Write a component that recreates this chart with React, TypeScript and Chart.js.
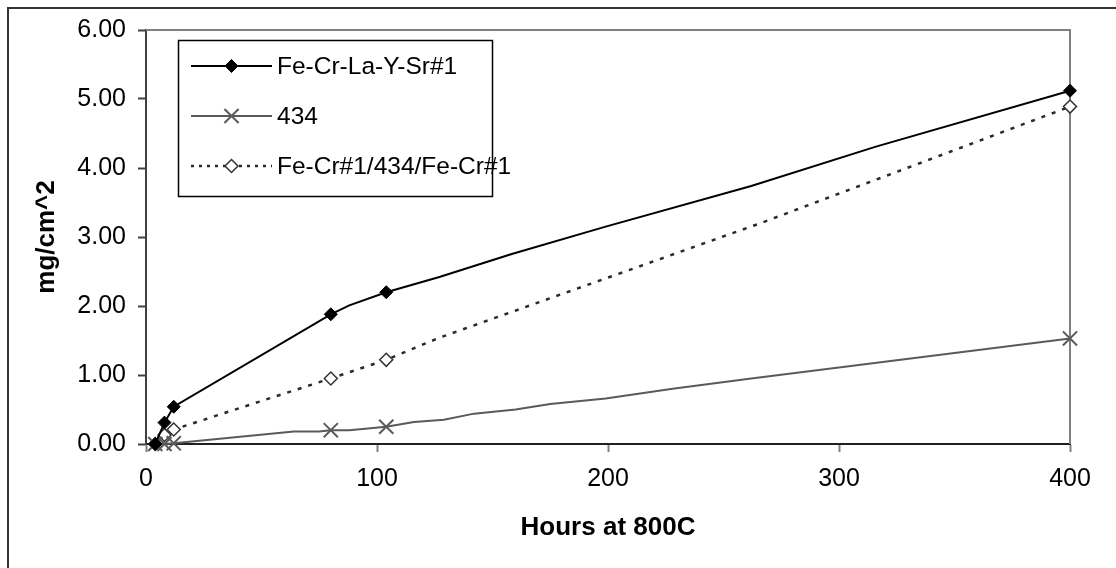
import React, { useEffect, useRef } from "react";
import { Chart, registerables } from "chart.js";
import { drawPoint } from "chart.js/helpers";

Chart.register(...registerables);

// Oxidation weight gain (mg/cm^2) versus exposure time (hours at 800C)
const hoursAlloy = [4, 8, 12, 80, 88, 104, 127, 158, 199, 262, 316, 400];
const gainAlloy = [0.0, 0.31, 0.54, 1.88, 2.01, 2.2, 2.42, 2.75, 3.15, 3.74, 4.31, 5.12];
const markedAlloy = [4, 8, 12, 80, 104, 400];

const hours434 = [4, 8, 12, 64, 75, 80, 88, 104, 116, 129, 142, 160, 175, 199, 228, 262, 400];
const gain434 = [0.0, 0.0, 0.01, 0.18, 0.18, 0.2, 0.2, 0.25, 0.32, 0.35, 0.44, 0.5, 0.58, 0.66, 0.8, 0.95, 1.53];
const marked434 = [4, 8, 12, 80, 104, 400];

const hoursLayered = [4, 8, 12, 80, 104, 127, 266, 400];
const gainLayered = [0.0, 0.13, 0.21, 0.95, 1.22, 1.54, 3.2, 4.89];
const markedLayered = [4, 8, 12, 80, 104, 400];

const seriesNames = ["Fe-Cr-La-Y-Sr#1", "434", "Fe-Cr#1/434/Fe-Cr#1"];
const xTicks = [0, 100, 200, 300, 400];
const yTicks = [0, 1, 2, 3, 4, 5, 6];

const FONT = '"Liberation Sans", Arial, sans-serif';

const toPoints = (xs: number[], ys: number[]) => xs.map((x, i) => ({ x, y: ys[i] }));
const radii = (xs: number[], marked: number[], r: number) =>
  xs.map((x) => (marked.includes(x) ? r : 0));

// Boxed legend placed inside the plot area, each entry showing line + marker
const boxLegend = {
  id: "boxLegend",
  afterDraw(chart: any) {
    const ctx: CanvasRenderingContext2D = chart.ctx;
    const { left, top } = chart.chartArea;
    const bx = left + 32;
    const by = top + 10;
    const bw = 314;
    const bh = 156;
    ctx.save();
    ctx.fillStyle = "#ffffff";
    ctx.fillRect(bx, by, bw, bh);
    ctx.strokeStyle = "#000000";
    ctx.lineWidth = 1.5;
    ctx.setLineDash([]);
    ctx.strokeRect(bx + 0.5, by + 0.5, bw, bh);

    chart.data.datasets.forEach((ds: any, i: number) => {
      const y = by + 26 + i * 50;
      const x0 = bx + 13;
      const x1 = bx + 94;
      const mx = (x0 + x1) / 2;
      ctx.save();
      ctx.strokeStyle = ds.borderColor;
      ctx.lineWidth = ds.borderWidth;
      ctx.setLineDash(ds.borderDash && ds.borderDash.length ? [3, 5] : []);
      ctx.beginPath();
      ctx.moveTo(x0, y);
      ctx.lineTo(x1, y);
      ctx.stroke();
      ctx.setLineDash([]);
      ctx.fillStyle = ds.pointBackgroundColor;
      ctx.strokeStyle = ds.pointBorderColor;
      ctx.lineWidth = ds.pointBorderWidth;
      drawPoint(ctx, { pointStyle: ds.pointStyle, radius: ds.legendRadius, rotation: 0, borderWidth: ds.pointBorderWidth } as any, mx, y);
      ctx.restore();

      ctx.fillStyle = "#000000";
      ctx.font = `24.5px ${FONT}`;
      ctx.textAlign = "left";
      ctx.textBaseline = "middle";
      ctx.fillText(ds.label, bx + 99, y + 1);
    });
    ctx.restore();
  },
};

// Grey frame lines on the top and right of the plot area
const plotFrame = {
  id: "plotFrame",
  beforeDatasetsDraw(chart: any) {
    const ctx: CanvasRenderingContext2D = chart.ctx;
    const { left, top, right, bottom } = chart.chartArea;
    ctx.save();
    ctx.strokeStyle = "#808080";
    ctx.lineWidth = 2;
    ctx.beginPath();
    ctx.moveTo(left, top);
    ctx.lineTo(right, top);
    ctx.lineTo(right, bottom);
    ctx.stroke();
    ctx.restore();
  },
};

export default function App() {
  const canvasRef = useRef<HTMLCanvasElement | null>(null);

  useEffect(() => {
    const canvas = canvasRef.current;
    if (!canvas) return;
    const chart = new Chart(canvas, {
      type: "line",
      data: {
        datasets: [
          {
            label: seriesNames[0],
            data: toPoints(hoursAlloy, gainAlloy),
            borderColor: "#000000",
            borderWidth: 2,
            pointStyle: "rectRot",
            pointRadius: radii(hoursAlloy, markedAlloy, 6.5),
            pointBackgroundColor: "#000000",
            pointBorderColor: "#000000",
            pointBorderWidth: 1,
            legendRadius: 6.5,
            tension: 0,
            clip: false,
          } as any,
          {
            label: seriesNames[1],
            data: toPoints(hours434, gain434),
            borderColor: "#5a5a5a",
            borderWidth: 2,
            pointStyle: "crossRot",
            pointRadius: radii(hours434, marked434, 10),
            pointBackgroundColor: "#5a5a5a",
            pointBorderColor: "#5a5a5a",
            pointBorderWidth: 2,
            legendRadius: 10,
            tension: 0,
            clip: false,
          } as any,
          {
            label: seriesNames[2],
            data: toPoints(hoursLayered, gainLayered),
            borderColor: "#2a2a2a",
            borderWidth: 2.5,
            borderDash: [4, 7],
            pointStyle: "rectRot",
            pointRadius: radii(hoursLayered, markedLayered, 6.5),
            pointBackgroundColor: "#ffffff",
            pointBorderColor: "#333333",
            pointBorderWidth: 1.5,
            legendRadius: 6.5,
            tension: 0,
            clip: false,
          } as any,
        ],
      },
      options: {
        responsive: false,
        animation: false,
        events: [],
        layout: { padding: { left: 0, top: 30, right: 46, bottom: 0 } },
        plugins: {
          legend: { display: false },
          tooltip: { enabled: false },
        },
        scales: {
          x: {
            type: "linear",
            min: 0,
            max: 400,
            afterFit: (s: any) => {
              s.height = 124;
            },
            afterBuildTicks: (s: any) => {
              s.ticks = xTicks.map((v) => ({ value: v }));
            },
            ticks: {
              color: "#000000",
              font: { family: FONT, size: 25 },
              padding: 12,
              maxRotation: 0,
              callback: (v: any) => String(v),
            },
            grid: {
              drawOnChartArea: false,
              drawTicks: true,
              tickLength: 8,
              tickWidth: 2,
              tickColor: "#808080",
            },
            border: { display: true, color: "#202020", width: 2 },
            title: {
              display: true,
              text: "Hours at 800C",
              color: "#000000",
              font: { family: FONT, size: 26, weight: "bold" },
              padding: { top: 0, bottom: 25 },
            },
          },
          y: {
            type: "linear",
            min: 0,
            max: 6,
            afterFit: (s: any) => {
              s.width = 146;
            },
            afterBuildTicks: (s: any) => {
              s.ticks = yTicks.map((v) => ({ value: v }));
            },
            ticks: {
              color: "#000000",
              font: { family: FONT, size: 25 },
              padding: 12,
              callback: (v: any) => Number(v).toFixed(2),
            },
            grid: {
              drawOnChartArea: false,
              drawTicks: true,
              tickLength: 8,
              tickWidth: 2,
              tickColor: "#404040",
            },
            border: { display: true, color: "#404040", width: 2 },
            title: {
              display: true,
              text: "mg/cm^2",
              color: "#000000",
              font: { family: FONT, size: 26, weight: "bold" },
              padding: { top: 31, bottom: 0 },
            },
          },
        },
      },
      plugins: [plotFrame, boxLegend],
    });
    return () => chart.destroy();
  }, []);

  return (
    <div
      style={{
        position: "absolute",
        left: 0,
        top: 0,
        width: 1116,
        height: 568,
        overflow: "hidden",
        background: "#ffffff",
      }}
    >
      <div
        style={{
          position: "absolute",
          left: 7,
          top: 7,
          width: 1200,
          height: 700,
          borderLeft: "2px solid #333333",
          borderTop: "2px solid #333333",
        }}
      />
      <canvas
        ref={canvasRef}
        width={1116}
        height={568}
        style={{ position: "absolute", left: 0, top: 0, display: "block" }}
      />
    </div>
  );
}
